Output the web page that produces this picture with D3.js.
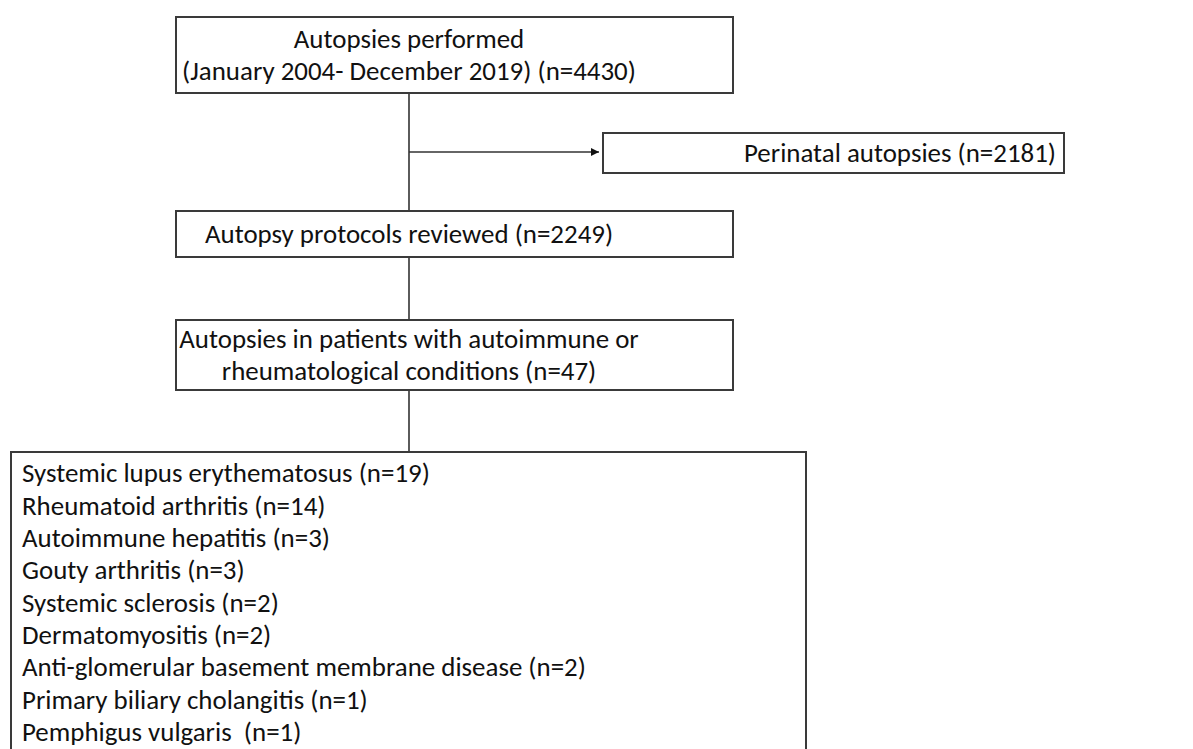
<!DOCTYPE html>
<html>
<head>
<meta charset="utf-8">
<script src="https://cdn.jsdelivr.net/npm/d3@7"></script>
<style>
  body { margin: 0; background: #fff; }
  .box { fill: #fff; stroke: #3a3a3a; stroke-width: 2; }
  .link { stroke: #333; stroke-width: 1.6; fill: none; }
  text { font-family: Carlito, Lato, "Open Sans", sans-serif; fill: #111; }
</style>
</head>
<body>
<svg class="chart" width="1193" height="749"></svg>
<script>
// flow step labels
var step_labels = [
    ["Autopsies performed", "(January 2004- December 2019) (n=4430)"],
    ["Perinatal autopsies (n=2181)"],
    ["Autopsy protocols reviewed (n=2249)"],
    ["Autopsies in patients with autoimmune or", "rheumatological conditions (n=47)"]
]
var conditions = [
    "Systemic lupus erythematosus",
    "Rheumatoid arthritis",
    "Autoimmune hepatitis",
    "Gouty arthritis",
    "Systemic sclerosis",
    "Dermatomyositis",
    "Anti-glomerular basement membrane disease",
    "Primary biliary cholangitis",
    "Pemphigus vulgaris "
]
var counts = [19, 14, 3, 3, 2, 2, 2, 1, 1]

// layout of the boxes (pixels)
var boxes = [
    {x: 176, y: 17, w: 557, h: 76, tx: 409},
    {x: 603, y: 133, w: 461, h: 40, tx: 900},
    {x: 176, y: 211, w: 557, h: 46, tx: 409},
    {x: 176, y: 320, w: 557, h: 70, tx: 409}
]
var list_box = {x: 11, y: 452, w: 795, h: 320}
var spine_x = 409
var arrow_y = 152
var line_gap = 32
var row_gap = 32.3

var svg = d3.select(".chart")

svg.append("defs").append("marker")
    .attr("id", "arrow")
    .attr("viewBox", "0 0 10 10")
    .attr("refX", 10).attr("refY", 5)
    .attr("markerWidth", 8).attr("markerHeight", 8)
    .attr("markerUnits", "userSpaceOnUse")
    .attr("orient", "auto")
    .append("path")
    .attr("d", "M0,0L10,5L0,10z")
    .attr("fill", "#111")

// size the font so the longest list line matches the picture
var probe = svg.append("text").style("font-size", "20px")
    .text(conditions[6] + " (n=" + counts[6] + ")")
var fs = 20 * 564 / probe.node().getComputedTextLength()
probe.remove()

// connectors
var line = d3.line()
var links = [
    [[spine_x, boxes[0].y + boxes[0].h], [spine_x, boxes[2].y]],
    [[spine_x, boxes[2].y + boxes[2].h], [spine_x, boxes[3].y]],
    [[spine_x, boxes[3].y + boxes[3].h], [spine_x, list_box.y]]
]
svg.selectAll(".link")
    .data(links)
    .enter()
    .append("path")
    .attr("class", "link")
    .attr("d", function(d) { return line(d) })

svg.append("path")
    .attr("class", "link")
    .attr("d", line([[spine_x, arrow_y], [boxes[1].x - 4, arrow_y]]))
    .attr("marker-end", "url(#arrow)")

// step boxes
var g = svg.selectAll(".step")
    .data(boxes)
    .enter()
    .append("g")
    .attr("class", "step")

g.append("rect")
    .attr("class", "box")
    .attr("x", function(d) { return d.x })
    .attr("y", function(d) { return d.y })
    .attr("width", function(d) { return d.w })
    .attr("height", function(d) { return d.h })

g.each(function(d, i) {
    var lines = step_labels[i]
    var cy = d.y + d.h / 2
    d3.select(this).selectAll("text")
        .data(lines)
        .enter()
        .append("text")
        .attr("x", d.tx)
        .attr("y", function(t, j) { return cy + (j - (lines.length - 1) / 2) * line_gap })
        .attr("dy", "0.35em")
        .attr("text-anchor", "middle")
        .style("font-size", fs + "px")
        .text(function(t) { return t })
})

// list of conditions
svg.append("rect")
    .attr("class", "box")
    .attr("x", list_box.x)
    .attr("y", list_box.y)
    .attr("width", list_box.w)
    .attr("height", list_box.h)

var rows = d3.scaleLinear()
    .domain([0, conditions.length - 1])
    .range([473, 473 + row_gap * (conditions.length - 1)])

svg.selectAll(".cond")
    .data(conditions)
    .enter()
    .append("text")
    .attr("class", "cond")
    .attr("x", list_box.x + 11)
    .attr("y", function(d, i) { return rows(i) })
    .attr("dy", "0.35em")
    .style("font-size", fs + "px")
    .style("white-space", "pre")
    .text(function(d, i) { return d + " (n=" + counts[i] + ")" })
</script>
</body>
</html>
